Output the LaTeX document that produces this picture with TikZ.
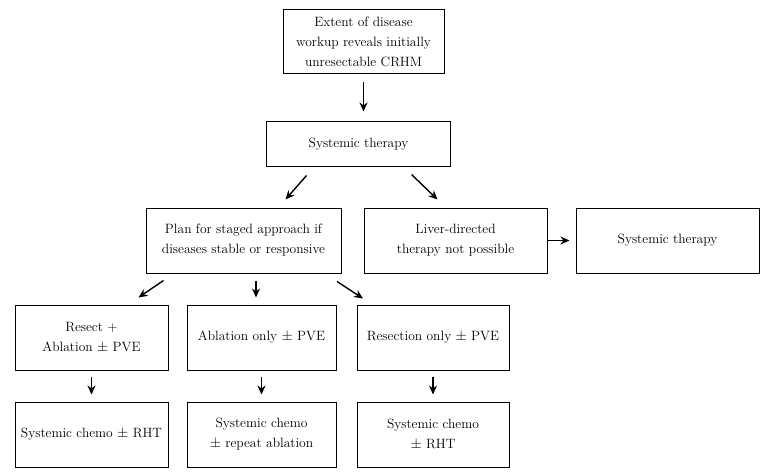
\documentclass[tikz,border=0pt]{standalone}
\usepackage{amsmath,amssymb}
\usepackage{fontspec}
\usepackage{tikz}
\usetikzlibrary{arrows.meta}

\tikzset{
  box/.style={draw, line width=1pt, align=center, inner sep=2pt,
    font=\fontsize{13.5}{20}\selectfont},
  arr/.style={-{Stealth[length=9pt,width=8pt]}, line width=1.4pt}
}

\begin{document}
\begin{tikzpicture}[x=1pt, y=-1pt]
    \useasboundingbox (0,0) rectangle (771,476);
    \node[box, minimum width=161pt, minimum height=64pt] (start) at (363.5, 42) {Extent of disease\\workup reveals initially\\unresectable CRHM};
    \node[box, minimum width=184pt, minimum height=44pt] (sys) at (358.5, 144) {Systemic therapy};
    \node[box, minimum width=195pt, minimum height=65pt] (plan) at (243.5, 240.5) {Plan for staged approach if\\diseases stable or responsive};
    \node[box, minimum width=183pt, minimum height=65pt] (liver) at (455.5, 240.5) {Liver-directed\\therapy not possible};
    \node[box, minimum width=183pt, minimum height=65pt] (sysb) at (667.5, 240.5) {Systemic therapy};
    \node[box, minimum width=153pt, minimum height=65pt] (resabl) at (91.5, 337.5) {Resect +\\Ablation $\pm$ PVE};
    \node[box, minimum width=149pt, minimum height=65pt] (abl) at (261.5, 337.5) {Ablation only $\pm$ PVE};
    \node[box, minimum width=152pt, minimum height=65pt] (res) at (433, 337.5) {Resection only $\pm$ PVE};
    \node[box, minimum width=153pt, minimum height=65pt] (chemoa) at (91.5, 434.5) {Systemic chemo $\pm$ RHT};
    \node[box, minimum width=149pt, minimum height=65pt] (chemob) at (261.5, 434.5) {Systemic chemo\\$\pm$ repeat ablation};
    \node[box, minimum width=152pt, minimum height=65pt] (chemoc) at (433, 434.5) {Systemic chemo\\$\pm$ RHT};
    \draw[arr, shorten <=8pt, shorten >=10pt] (start.south) -- (start.south |- sys.north);
    \draw[arr] ([xshift=-52pt, yshift=-9pt]sys.south) -- ([xshift=42pt, yshift=8pt]plan.north);
    \draw[arr] ([xshift=53pt, yshift=-8pt]sys.south) -- ([xshift=-18pt, yshift=8pt]liver.north);
    \draw[arr, shorten >=6pt] (liver) -- (sysb);
    \draw[arr] ([xshift=-80pt, yshift=-7pt]plan.south) -- ([xshift=47pt, yshift=7pt]resabl.north);
    \draw[arr] ([xshift=12.5pt, yshift=-7pt]plan.south) -- ([xshift=-5.5pt, yshift=7pt]abl.north);
    \draw[arr] ([xshift=93.5pt, yshift=-8pt]plan.south) -- ([xshift=-70pt, yshift=6pt]res.north);
    \draw[arr, shorten <=6pt, shorten >=7pt] (resabl) -- (chemoa);
    \draw[arr, shorten <=6pt, shorten >=7pt] (abl) -- (chemob);
    \draw[arr, shorten <=6pt, shorten >=7pt] (res) -- (chemoc);
\end{tikzpicture}
\end{document}
